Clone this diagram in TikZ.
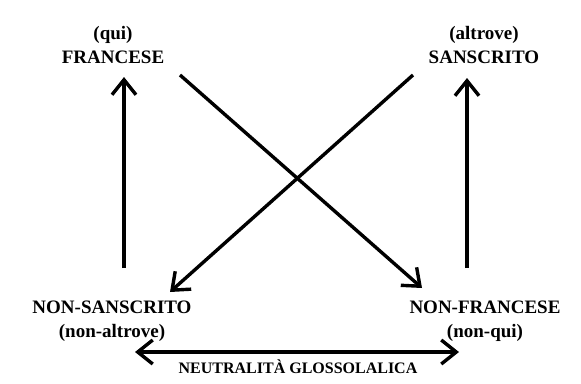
\documentclass[tikz,border=0pt]{standalone}
\usepackage{fontspec}
\setmainfont{Liberation Serif}
\usetikzlibrary{arrows.meta}

\begin{document}
\begin{tikzpicture}[x=1pt, y=-1pt,
  lab/.style={font=\fontsize{19}{24}\selectfont\bfseries, align=center, inner sep=0pt},
  small/.style={font=\fontsize{16}{18}\selectfont\bfseries, inner sep=0pt},
  arr/.style={line width=3.4pt, -{Straight Barb[length=15pt, width=24pt]}},
  dbl/.style={line width=3.4pt, {Straight Barb[length=15pt, width=24pt]}-{Straight Barb[length=15pt, width=24pt]}}]
\useasboundingbox (0,0) rectangle (581,383);
\node[lab] (francese) at (113,45) {(qui)\\FRANCESE};
\node[lab] (sanscrito) at (484,45) {(altrove)\\SANSCRITO};
\node[lab] (nonsanscrito) at (112,321) {NON-SANSCRITO\\(non-altrove)};
\node[lab] (nonfrancese) at (485,321) {NON-FRANCESE\\(non-qui)};
\node[small, anchor=base] (neutralita) at (298,373) {NEUTRALITÀ GLOSSOLALICA};

\coordinate (fr-tip) at (124,77);
\coordinate (fr-foot) at (124,268);
\coordinate (sa-tip) at (467,78);
\coordinate (sa-foot) at (467,268);
\coordinate (fr-out) at (180,75);
\coordinate (nf-tip) at (422,288);
\coordinate (sa-out) at (413,75);
\coordinate (ns-tip) at (170,292);
\coordinate (ns-end) at (135,352);
\coordinate (nf-end) at (459,352);

\draw[arr] (fr-foot) -- (fr-tip);
\draw[arr] (sa-foot) -- (sa-tip);
\draw[arr] (fr-out) -- (nf-tip);
\draw[arr] (sa-out) -- (ns-tip);
\draw[dbl] (ns-end) -- (nf-end);
\end{tikzpicture}
\end{document}
